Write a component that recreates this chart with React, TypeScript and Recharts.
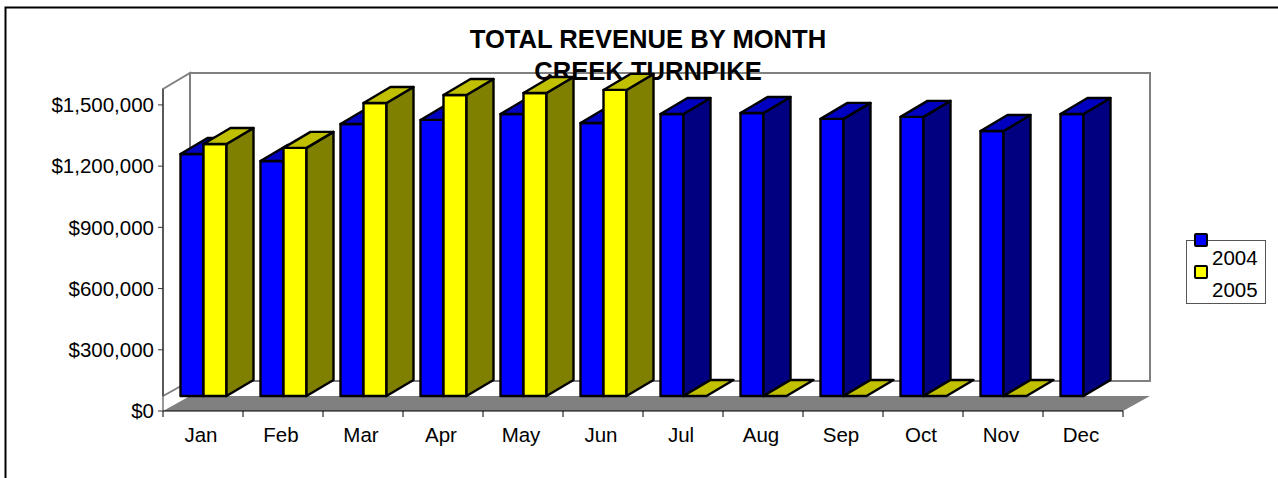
import React from 'react';
import { BarChart, Bar, XAxis, YAxis, Legend } from 'recharts';

const months = ['Jan', 'Feb', 'Mar', 'Apr', 'May', 'Jun', 'Jul', 'Aug', 'Sep', 'Oct', 'Nov', 'Dec'];
const revenue2004 = [1186000, 1152000, 1333000, 1353000, 1382000, 1338000, 1382000, 1387000, 1358000, 1368000, 1299000, 1382000];
const revenue2005 = [1235000, 1216000, 1436000, 1475000, 1485000, 1500000, 0, 0, 0, 0, 0, null];
const yTicks = [0, 300000, 600000, 900000, 1200000, 1500000];
const titleLines = ['TOTAL REVENUE BY MONTH', 'CREEK TURNPIKE'];

const tableData = months.map((month, i) => ({
  month,
  y2004: revenue2004[i],
  y2005: revenue2005[i],
}));

const FONT = '"Liberation Sans", Arial, sans-serif';

// plot rectangle of the front plane
const PLOT = { left: 163, top: 89, right: 1123, bottom: 411 };
// depth of the 3D box and of a single bar
const DX = 27;
const DY = 16;
const BAR_LIFT = 15;
const BAR_NUDGE = 0.5;
const X_AXIS_HEIGHT = 30;

const Bar3D = (props: any) => {
  const { y, width, height, value, fill, sideFill, topFill } = props;
  if (value == null) return null;
  const x = props.x + BAR_NUDGE;
  const top = y - BAR_LIFT;
  const bottom = y + height - BAR_LIFT;
  const right = x + width;
  return (
    <g stroke="#000" strokeWidth={2.4} strokeLinejoin="round">
      {height > 0 && <rect x={x} y={top} width={width} height={height} fill={fill} />}
      {height > 0 && (
        <polygon
          points={`${right},${top} ${right + DX},${top - DY} ${right + DX},${bottom - DY} ${right},${bottom}`}
          fill={sideFill}
        />
      )}
      <polygon
        points={`${x},${top} ${x + DX},${top - DY} ${right + DX},${top - DY} ${right},${top}`}
        fill={topFill}
      />
    </g>
  );
};

const XTick = (props: any) => {
  const { x, payload, index } = props;
  const half = (PLOT.right - PLOT.left) / months.length / 2;
  return (
    <g>
      <line x1={x - half} x2={x - half} y1={PLOT.bottom} y2={PLOT.bottom + 6} stroke="#000" />
      {index === months.length - 1 && (
        <line x1={x + half} x2={x + half} y1={PLOT.bottom} y2={PLOT.bottom + 6} stroke="#000" />
      )}
      <text x={x - 2} y={PLOT.bottom + 31} textAnchor="middle" fontSize={20.5} fontFamily={FONT} fill="#000">
        {payload.value}
      </text>
    </g>
  );
};

const LegendBox = ({ payload }: any) => (
  <div style={{ position: 'relative', width: 80, height: 64, border: '1px solid #555', boxSizing: 'border-box', fontFamily: FONT, fontSize: 20.5, color: '#000' }}>
    {(payload || []).map((entry: any, i: number) => (
      <React.Fragment key={entry.value}>
        <div style={{ position: 'absolute', left: 7, top: -8 + i * 32, width: 14, height: 14, boxSizing: 'border-box', border: '2px solid #000', borderRadius: 2, background: entry.color }} />
        <div style={{ position: 'absolute', left: 25, top: 5 + i * 32, lineHeight: '24px' }}>{entry.value}</div>
      </React.Fragment>
    ))}
  </div>
);

export default function App() {
  const { left, top, right, bottom } = PLOT;
  return (
    <div style={{ position: 'absolute', left: 0, top: 0, width: 1278, height: 478, overflow: 'hidden', background: '#fff' }}>
      <BarChart
        width={1278}
        height={478}
        data={tableData}
        margin={{ top, left: 63, right: 1278 - right, bottom: 478 - bottom - X_AXIS_HEIGHT }}
        barCategoryGap={17}
        barGap={0}
      >
        <rect x={5.5} y={7.5} width={1290} height={490} fill="#fff" stroke="#000" strokeWidth={2} />
        {/* back wall, side wall and floor */}
        <rect x={left + DX} y={top - DY} width={right - left} height={bottom - top - 14} fill="#fff" stroke="#808080" strokeWidth={2} />
        <polyline
          points={`${left},${bottom - 15} ${left},${top} ${left + DX},${top - DY} ${left + DX},${bottom - 30} ${left},${bottom - 15}`}
          fill="#fff"
          stroke="#808080"
          strokeWidth={2}
        />
        <polygon
          points={`${left},${bottom} ${right},${bottom} ${right + DX},${bottom - 15} ${left + DX},${bottom - 15}`}
          fill="#808080"
        />
        <XAxis dataKey="month" height={X_AXIS_HEIGHT} tickLine={false} axisLine={{ stroke: '#000' }} tick={<XTick />} interval={0} />
        <YAxis
          width={100}
          domain={[0, 1578000]}
          ticks={yTicks}
          tickSize={5}
          tickMargin={4}
          axisLine={{ stroke: '#333' }}
          tickLine={{ stroke: '#333' }}
          tick={{ fontSize: 20.5, fontFamily: FONT, fill: '#000' }}
          tickFormatter={(v: number) => `$${v.toLocaleString('en-US')}`}
        />
        <Bar
          dataKey="y2004"
          name="2004"
          fill="#0000FF"
          isAnimationActive={false}
          shape={(p: any) => <Bar3D {...p} sideFill="#000080" topFill="#0000C0" />}
        />
        <Bar
          dataKey="y2005"
          name="2005"
          fill="#FFFF00"
          isAnimationActive={false}
          shape={(p: any) => <Bar3D {...p} sideFill="#808000" topFill="#C0C000" />}
        />
        <Legend
          layout="vertical"
          align="center"
          verticalAlign="middle"
          content={<LegendBox />}
          wrapperStyle={{ position: 'absolute', left: 1186, top: 240, width: 80, height: 64 }}
        />
        <text fontFamily={FONT} fontSize={25.6} fontWeight="bold" fill="#000" textAnchor="middle">
          <tspan x={648} y={48}>{titleLines[0]}</tspan>
          <tspan x={648} y={80}>{titleLines[1]}</tspan>
        </text>
      </BarChart>
    </div>
  );
}
